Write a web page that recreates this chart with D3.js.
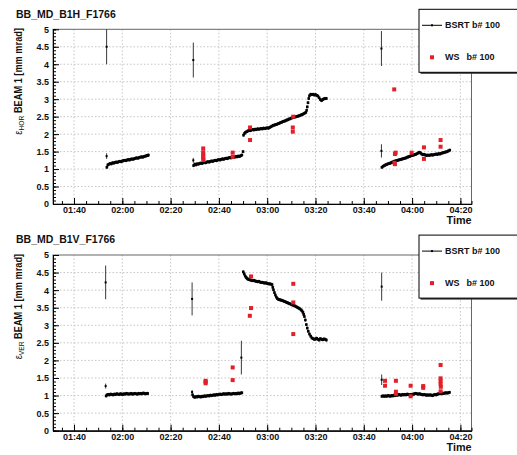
<!DOCTYPE html>
<html><head><meta charset="utf-8">
<script src="https://cdn.jsdelivr.net/npm/d3@7"></script>
<style>
html,body{margin:0;padding:0;background:#fff;}
svg{display:block;font-family:"Liberation Sans",Arial,Helvetica,sans-serif;}
</style></head>
<body><svg id="c" width="517" height="455"></svg>
<script>
// ---------------- DATA (time in minutes after midnight) ----------------
const titles = ["BB_MD_B1H_F1766", "BB_MD_B1V_F1766"];
const planes = ["HOR", "VER"];
const legendLabels = ["BSRT b# 100", "WS", "b# 100"];
const xTickMinutes = [100, 120, 140, 160, 180, 200, 220, 240, 260];
const yTickValues = [0, 0.5, 1, 1.5, 2, 2.5, 3, 3.5, 4, 4.5, 5];
const bsrtErr = 0.045;

// isolated BSRT points: [time, value, error]
const bsrtIsoH = [[113.5,4.50,0.50],[113.5,1.37,0.08],[149.4,4.12,0.50],[149.4,1.25,0.07],[227.3,4.45,0.50],[227.3,1.52,0.19]];
const bsrtIsoV = [[113.1,4.22,0.48],[113.1,1.27,0.07],[148.9,3.75,0.47],[148.9,1.10,0.06],[169.3,2.08,0.48],[227.4,4.10,0.40],[227.4,1.45,0.15]];

// dense BSRT series: [time, value]
const bsrtH1 = [[113.6,1.05],[114.0,1.12],[114.5,1.14],[115.0,1.16],[115.5,1.15],[116.0,1.18],[116.5,1.17],[117.0,1.19],[117.5,1.20],[118.0,1.19],[118.5,1.21],[119.0,1.22],[119.5,1.21],[120.0,1.23],[120.5,1.24],[121.0,1.25],[121.5,1.24],[122.0,1.26],[122.5,1.27],[123.0,1.26],[123.5,1.28],[124.0,1.29],[124.5,1.28],[125.0,1.30],[125.5,1.31],[126.0,1.32],[126.5,1.31],[127.0,1.33],[127.5,1.34],[128.0,1.35],[128.5,1.34],[129.0,1.36],[129.5,1.37],[130.0,1.38],[130.5,1.39],[130.8,1.40]];
const bsrtH2 = [[149.5,1.10],[150.0,1.14],[150.5,1.12],[151.0,1.15],[151.5,1.14],[152.0,1.16],[152.5,1.17],[153.0,1.16],[153.5,1.18],[154.0,1.19],[154.5,1.18],[155.0,1.20],[155.5,1.21],[156.0,1.20],[156.5,1.22],[157.0,1.23],[157.5,1.22],[158.0,1.24],[158.5,1.25],[159.0,1.24],[159.5,1.26],[160.0,1.27],[160.5,1.26],[161.0,1.28],[161.5,1.29],[162.0,1.28],[162.5,1.30],[163.0,1.31],[163.5,1.30],[164.0,1.32],[164.5,1.33],[165.0,1.32],[165.5,1.34],[166.0,1.35],[166.5,1.34],[167.0,1.36],[167.5,1.35],[168.0,1.37],[168.5,1.36],[169.0,1.38],[169.5,1.40],[170.0,1.50]];
const bsrtH3 = [[170.2,1.97],[170.6,2.02],[171.0,2.05],[171.5,2.07],[172.0,2.09],[172.5,2.11],[173.0,2.10],[173.5,2.12],[174.0,2.13],[174.5,2.12],[175.0,2.14],[175.5,2.13],[176.0,2.15],[176.5,2.14],[177.0,2.15],[177.5,2.16],[178.0,2.15],[178.5,2.17],[179.0,2.16],[179.5,2.17],[180.0,2.18],[180.5,2.17],[181.0,2.19],[181.5,2.21],[182.0,2.23],[182.5,2.25],[183.0,2.26],[183.5,2.27],[184.0,2.28],[184.5,2.30],[185.0,2.31],[185.5,2.33],[186.0,2.34],[186.5,2.36],[187.0,2.37],[187.5,2.38],[188.0,2.40],[188.5,2.41],[189.0,2.43],[189.5,2.44],[190.0,2.46],[190.5,2.47],[191.0,2.48],[191.5,2.49],[192.0,2.50],[192.5,2.51],[193.0,2.52],[193.5,2.53],[194.0,2.55],[194.5,2.56],[195.0,2.58],[195.5,2.60],[196.0,2.62],[196.3,2.68],[196.6,2.78],[196.9,2.90],[197.2,3.02],[197.5,3.10],[198.0,3.14],[198.5,3.13],[199.0,3.14],[199.5,3.12],[200.0,3.13],[200.5,3.11],[201.0,3.09],[201.5,3.04],[202.0,2.99],[202.5,2.96],[203.0,2.99],[203.5,3.01],[204.0,3.02],[204.5,3.02]];
const bsrtH4 = [[227.5,1.05],[228.0,1.08],[228.5,1.10],[229.0,1.12],[229.5,1.13],[230.0,1.15],[230.5,1.16],[231.0,1.17],[231.5,1.19],[232.0,1.20],[232.5,1.22],[233.0,1.23],[233.5,1.24],[234.0,1.25],[234.5,1.26],[235.0,1.27],[235.5,1.28],[236.0,1.29],[236.5,1.30],[237.0,1.31],[237.5,1.32],[238.0,1.34],[238.5,1.35],[239.0,1.36],[239.5,1.38],[240.0,1.39],[240.5,1.40],[241.0,1.41],[241.5,1.42],[242.0,1.44],[242.5,1.46],[243.0,1.48],[243.5,1.46],[244.0,1.43],[244.5,1.41],[245.0,1.42],[245.5,1.40],[246.0,1.39],[246.5,1.40],[247.0,1.39],[247.5,1.40],[248.0,1.41],[248.5,1.40],[249.0,1.41],[249.5,1.42],[250.0,1.43],[250.5,1.42],[251.0,1.44],[251.5,1.43],[252.0,1.45],[252.5,1.46],[253.0,1.47],[253.5,1.48],[254.0,1.49],[254.5,1.50],[255.0,1.52],[255.6,1.54]];

const bsrtV1 = [[113.3,0.99],[113.7,1.02],[114.2,1.03],[114.7,1.02],[115.2,1.04],[115.7,1.03],[116.2,1.02],[116.7,1.04],[117.2,1.03],[117.7,1.05],[118.2,1.04],[118.7,1.03],[119.2,1.05],[119.7,1.04],[120.2,1.03],[120.7,1.05],[121.2,1.04],[121.7,1.06],[122.2,1.05],[122.7,1.04],[123.2,1.05],[123.7,1.06],[124.2,1.04],[124.7,1.05],[125.2,1.06],[125.7,1.05],[126.2,1.04],[126.7,1.06],[127.2,1.05],[127.7,1.06],[128.2,1.05],[128.7,1.07],[129.2,1.06],[129.7,1.05],[130.2,1.06],[130.5,1.06]];
const bsrtV2 = [[149.1,1.02],[149.5,0.97],[150.0,0.95],[150.5,0.97],[151.0,0.96],[151.5,0.98],[152.0,0.97],[152.5,0.96],[153.0,0.98],[153.5,0.97],[154.0,0.99],[154.5,0.98],[155.0,0.99],[155.5,1.00],[156.0,0.99],[156.5,1.01],[157.0,1.00],[157.5,1.01],[158.0,1.02],[158.5,1.01],[159.0,1.03],[159.5,1.02],[160.0,1.03],[160.5,1.04],[161.0,1.03],[161.5,1.04],[162.0,1.05],[162.5,1.04],[163.0,1.05],[163.5,1.04],[164.0,1.06],[164.5,1.05],[165.0,1.04],[165.5,1.05],[166.0,1.06],[166.5,1.05],[167.0,1.06],[167.5,1.05],[168.0,1.07],[168.5,1.06],[169.0,1.07],[169.5,1.08]];
const bsrtV3 = [[170.1,4.52],[170.5,4.46],[170.9,4.40],[171.3,4.36],[171.7,4.33],[172.1,4.31],[172.5,4.30],[173.0,4.29],[173.5,4.28],[174.0,4.27],[174.5,4.28],[175.0,4.26],[175.5,4.25],[176.0,4.24],[176.5,4.25],[177.0,4.23],[177.5,4.22],[178.0,4.22],[178.5,4.21],[179.0,4.20],[179.5,4.21],[180.0,4.19],[180.5,4.18],[181.0,4.18],[181.5,4.17],[182.0,4.16],[182.3,4.08],[182.6,4.01],[183.0,3.93],[183.4,3.86],[183.8,3.80],[184.2,3.76],[184.6,3.74],[185.0,3.73],[185.5,3.72],[186.0,3.71],[186.5,3.70],[187.0,3.68],[187.5,3.67],[188.0,3.65],[188.5,3.64],[189.0,3.62],[189.5,3.61],[190.0,3.59],[190.5,3.58],[191.0,3.56],[191.5,3.55],[192.0,3.53],[192.5,3.51],[193.0,3.49],[193.5,3.47],[194.0,3.44],[194.4,3.41],[194.8,3.37],[195.1,3.31],[195.4,3.25],[195.8,3.15],[196.2,3.02],[196.6,2.92],[197.0,2.83],[197.5,2.75],[198.0,2.69],[198.5,2.64],[199.0,2.62],[199.5,2.60],[200.0,2.61],[200.5,2.63],[201.0,2.60],[201.5,2.58],[202.0,2.62],[202.5,2.60],[203.0,2.59],[203.5,2.61],[204.0,2.60],[204.5,2.58]];
const bsrtV4 = [[227.5,0.98],[228.0,0.99],[228.5,0.98],[229.0,0.99],[229.5,0.98],[230.0,1.00],[230.5,0.99],[231.0,0.98],[231.5,1.00],[232.0,0.99],[232.5,1.01],[233.0,1.00],[233.5,1.02],[234.0,1.01],[234.5,1.03],[235.0,1.02],[235.5,1.01],[236.0,1.03],[236.5,1.02],[237.0,1.03],[237.5,1.02],[238.0,1.04],[238.5,1.03],[239.0,1.02],[239.5,1.03],[240.0,1.02],[240.5,1.04],[241.0,1.05],[241.5,1.06],[242.0,1.05],[242.5,1.04],[243.0,1.05],[243.5,1.04],[244.0,1.03],[244.5,1.02],[245.0,1.03],[245.5,1.02],[246.0,1.01],[246.5,1.02],[247.0,1.01],[247.5,1.02],[248.0,1.01],[248.5,1.00],[249.0,1.02],[249.5,1.03],[250.0,1.02],[250.5,1.04],[251.0,1.05],[251.5,1.06],[252.0,1.05],[252.5,1.07],[253.0,1.06],[253.5,1.07],[254.0,1.08],[254.5,1.07],[255.0,1.08],[255.5,1.09]];

// wire scanner points: [time, value]
const wsH = [[153.5,1.59],[153.5,1.48],[153.5,1.42],[153.5,1.36],[153.5,1.30],[153.6,1.26],[165.7,1.47],[165.7,1.35],[172.9,2.19],[172.9,1.83],[190.8,2.50],[190.6,2.19],[190.6,2.07],[232.6,3.28],[232.9,1.43],[233.2,1.47],[232.9,1.14],[232.7,1.18],[239.8,1.47],[244.9,1.62],[244.9,1.29],[251.8,1.83],[251.8,1.64]];
const wsV = [[154.5,1.42],[154.5,1.39],[154.5,1.35],[165.7,1.80],[165.7,1.44],[173.3,4.39],[173.3,3.49],[172.8,3.27],[190.8,4.18],[190.8,3.65],[190.8,2.75],[228.8,1.42],[228.8,1.28],[233.3,1.42],[233.3,1.11],[233.3,1.05],[239.4,1.28],[239.4,0.98],[244.6,1.27],[244.6,1.22],[251.8,1.87],[251.8,1.49],[251.8,1.41],[251.8,1.33],[251.9,1.25],[251.8,1.12]];

const xDomain = [91.3, 264.6];
const yDomain = [0, 5];

// ---------------- DRAWING ----------------
const svg = d3.select("#c");
const RED = "#e3202a";
const pad2 = n => (n < 10 ? "0" : "") + n;
const fmtTime = m => pad2(Math.floor(m / 60)) + ":" + pad2(Math.round(m % 60));

const panels = [
  {title: titles[0], plane: planes[0], iso: bsrtIsoH, series: [bsrtH1, bsrtH2, bsrtH3, bsrtH4], ws: wsH, top: 29.3, bottom: 204, off: 0},
  {title: titles[1], plane: planes[1], iso: bsrtIsoV, series: [bsrtV1, bsrtV2, bsrtV3, bsrtV4], ws: wsV, top: 255, bottom: 430.7, off: 225.8}
];

const left = 53, right = 471.5;

panels.forEach(p => {
  const g = svg.append("g");
  const x = d3.scaleLinear().domain(xDomain).range([left, right]);
  const y = d3.scaleLinear().domain(yDomain).range([p.bottom, p.top]);

  // grid
  g.append("g").selectAll("line").data(xTickMinutes).join("line")
    .attr("x1", d => x(d)).attr("x2", d => x(d)).attr("y1", p.top).attr("y2", p.bottom)
    .attr("stroke", "#b8b8b8").attr("stroke-width", 0.8).attr("stroke-dasharray", "1.5,2");
  g.append("g").selectAll("line").data(yTickValues.filter(v => v > 0 && v < 5)).join("line")
    .attr("x1", left).attr("x2", right).attr("y1", d => y(d)).attr("y2", d => y(d))
    .attr("stroke", "#b8b8b8").attr("stroke-width", 0.8).attr("stroke-dasharray", "1.5,2");

  // frame
  g.append("rect").attr("x", left).attr("y", p.top).attr("width", right - left).attr("height", p.bottom - p.top)
    .attr("fill", "none").attr("stroke", "#666").attr("stroke-width", 1);

  // axes
  const xMinor = d3.axisBottom(x).tickValues(d3.range(95, 265, 5)).tickSize(-3).tickFormat("");
  g.append("g").attr("transform", `translate(0,${p.bottom})`).call(xMinor);
  const xAx = d3.axisBottom(x).tickValues(xTickMinutes).tickSizeInner(-6).tickSizeOuter(0).tickPadding(3).tickFormat(fmtTime);
  g.append("g").attr("transform", `translate(0,${p.bottom})`).call(xAx);
  const yMinor = d3.axisLeft(y).tickValues(d3.range(0, 5.001, 0.1)).tickSize(-3).tickFormat("");
  g.append("g").attr("transform", `translate(${left},0)`).call(yMinor);
  const yAx = d3.axisLeft(y).tickValues(yTickValues).tickSizeInner(-6).tickSizeOuter(0).tickPadding(4).tickFormat(d3.format("~g"));
  g.append("g").attr("transform", `translate(${left},0)`).call(yAx);
  g.selectAll(".domain").attr("stroke", "#000");
  g.selectAll(".tick line").attr("stroke", "#000");
  g.selectAll(".tick text").attr("font-size", 9).attr("font-weight", "bold").attr("fill", "#111")
    .attr("font-family", '"Liberation Sans",Arial,sans-serif');

  // title
  g.append("text").attr("x", 16).attr("y", 17.6 + p.off).attr("font-size", 10.5).attr("font-weight", "bold")
    .attr("fill", "#111").text(p.title);

  // time label
  g.append("text").attr("x", right).attr("y", p.bottom + 20.3).attr("text-anchor", "end")
    .attr("font-size", 10.8).attr("font-weight", "bold").attr("fill", "#111").text("Time");

  // y label
  const yl = g.append("text").attr("transform", `translate(21.5,${28 + p.off}) rotate(-90) scale(0.84,1)`)
    .attr("text-anchor", "end").attr("fill", "#111");
  yl.append("tspan").attr("font-size", 11).text("\u03B5");
  yl.append("tspan").attr("font-size", 8).attr("dy", 2.8).text(p.plane);
  yl.append("tspan").attr("font-size", 11).attr("font-weight", "bold").attr("dy", -2.8).text(" BEAM 1 [mm mrad]");

  // BSRT dense series
  const dense = g.append("g");
  p.series.forEach(s => {
    dense.append("g").selectAll("line").data(s).join("line")
      .attr("x1", d => x(d[0])).attr("x2", d => x(d[0]))
      .attr("y1", d => y(d[1] - bsrtErr)).attr("y2", d => y(d[1] + bsrtErr))
      .attr("stroke", "#000").attr("stroke-width", 0.8);
    dense.append("g").selectAll("rect").data(s).join("rect")
      .attr("x", d => x(d[0]) - 1.3).attr("y", d => y(d[1]) - 1.3)
      .attr("width", 2.6).attr("height", 2.6).attr("fill", "#000");
  });

  // isolated BSRT points with error bars
  g.append("g").selectAll("line").data(p.iso).join("line")
    .attr("x1", d => x(d[0])).attr("x2", d => x(d[0]))
    .attr("y1", d => y(d[1] - d[2])).attr("y2", d => y(d[1] + d[2]))
    .attr("stroke", "#222").attr("stroke-width", 0.9);
  g.append("g").selectAll("rect").data(p.iso).join("rect")
    .attr("x", d => x(d[0]) - 1).attr("y", d => y(d[1]) - 1)
    .attr("width", 2).attr("height", 2).attr("fill", "#000");

  // WS points
  g.append("g").selectAll("rect").data(p.ws).join("rect")
    .attr("x", d => x(d[0]) - 2).attr("y", d => y(d[1]) - 2)
    .attr("width", 4).attr("height", 4).attr("fill", RED);

  // legend
  const lg = g.append("g").attr("transform", `translate(419,${9.3 + p.off})`);
  lg.append("rect").attr("x", 1.5).attr("y", 1.5).attr("width", 120).attr("height", 63).attr("fill", "#333");
  lg.append("rect").attr("x", 0).attr("y", 0).attr("width", 120).attr("height", 63)
    .attr("fill", "#fff").attr("stroke", "#000").attr("stroke-width", 1);
  lg.append("line").attr("x1", 3).attr("x2", 23).attr("y1", 16).attr("y2", 16).attr("stroke", "#000").attr("stroke-width", 1);
  lg.append("rect").attr("x", 12).attr("y", 15).attr("width", 2).attr("height", 2).attr("fill", "#000");
  lg.append("text").attr("x", 26).attr("y", 19.2).attr("font-size", 9).attr("font-weight", "bold").attr("fill", "#111").text(legendLabels[0]);
  lg.append("rect").attr("x", 11).attr("y", 46).attr("width", 4).attr("height", 4).attr("fill", RED);
  lg.append("text").attr("x", 26).attr("y", 51.2).attr("font-size", 9).attr("font-weight", "bold").attr("fill", "#111").text(legendLabels[1]);
  lg.append("text").attr("x", 47.5).attr("y", 51.2).attr("font-size", 9).attr("font-weight", "bold").attr("fill", "#111").text(legendLabels[2]);
});
</script></body></html>
